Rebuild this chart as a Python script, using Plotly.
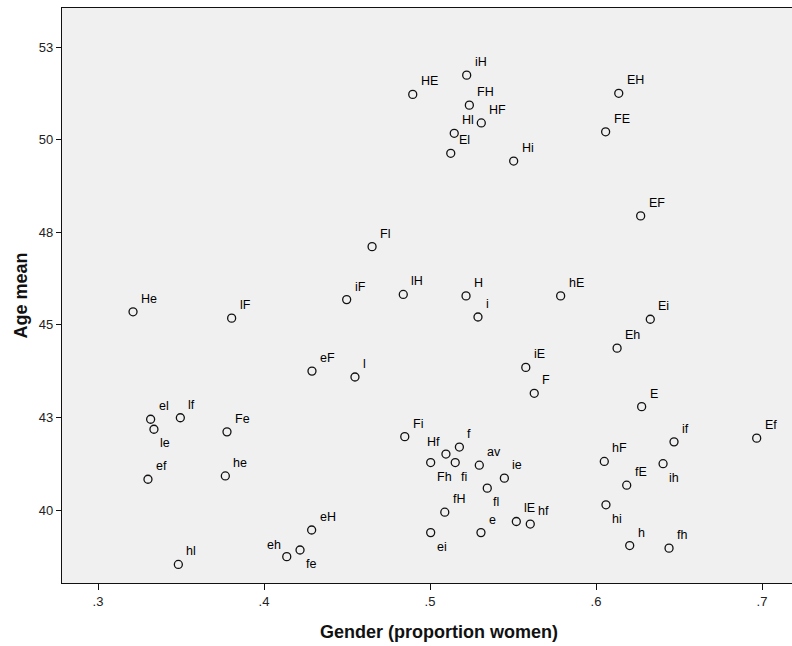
import plotly.graph_objects as go

# Group codes with their gender share (proportion women) and mean age
labels = [
    "HE", "iH", "FH", "HF", "Hl", "El", "Hi", "EH", "FE", "EF",
    "Fl", "He", "lF", "iF", "lH", "H", "i", "hE", "Ei", "Eh",
    "iE", "F", "E", "eF", "l", "el", "le", "lf", "Fe", "ef",
    "he", "Fi", "Fh", "Hf", "fi", "f", "av", "ie", "fl", "fH",
    "ei", "e", "lE", "hf", "hF", "if", "Ef", "ih", "fE", "hi",
    "h", "fh", "hl", "eh", "fe", "eH",
]
gender = [
    0.4896, 0.5221, 0.5237, 0.5309, 0.5146, 0.5125, 0.5504, 0.6137, 0.6058, 0.6269,
    0.4651, 0.3211, 0.3805, 0.4498, 0.4839, 0.5217, 0.5289, 0.5787, 0.6327, 0.6127,
    0.5577, 0.5628, 0.6275, 0.4289, 0.4548, 0.3317, 0.3337, 0.3496, 0.3777, 0.3301,
    0.3767, 0.4848, 0.5004, 0.5096, 0.5152, 0.5177, 0.5297, 0.5448, 0.5345, 0.5089,
    0.5004, 0.5307, 0.5520, 0.5604, 0.6050, 0.6470, 0.6968, 0.6404, 0.6185, 0.6060,
    0.6203, 0.6440, 0.3484, 0.4137, 0.4217, 0.4287,
]
age_mean = [
    51.22, 51.74, 50.93, 50.45, 50.17, 49.63, 49.42, 51.25, 50.21, 47.94,
    47.11, 45.35, 45.18, 45.68, 45.82, 45.78, 45.21, 45.78, 45.15, 44.37,
    43.85, 43.15, 42.79, 43.75, 43.59, 42.45, 42.18, 42.49, 42.11, 40.83,
    40.92, 41.98, 41.28, 41.51, 41.28, 41.70, 41.21, 40.86, 40.59, 39.94,
    39.39, 39.39, 39.69, 39.62, 41.31, 41.84, 41.94, 41.25, 40.67, 40.14,
    39.04, 38.97, 38.53, 38.74, 38.92, 39.46,
]

x_ticks = [0.3, 0.4, 0.5, 0.6, 0.7]
x_ticktext = [".3", ".4", ".5", ".6", ".7"]
y_ticks = [40, 42.5, 45, 47.5, 50, 52.5]
y_ticktext = ["40", "43", "45", "48", "50", "53"]

# Labels default to the upper right of their marker; a few are moved to avoid clutter
below_right = {"le", "Fh", "fi", "fl", "ei", "ih", "hi", "fe"}
above_left = {"Hf", "eh"}

fig = go.Figure()
fig.add_trace(go.Scatter(
    x=gender, y=age_mean, mode="markers",
    marker=dict(symbol="circle", size=8, color="rgba(0,0,0,0)",
                line=dict(color="#111111", width=1.3)),
    hoverinfo="text", text=labels, showlegend=False,
))

label_font = dict(family="Liberation Sans, Arial, sans-serif", size=12.5, color="#000000")
for lab, xv, yv in zip(labels, gender, age_mean):
    if lab in below_right:
        xa, xs, ys = "left", 4, -14
    elif lab in above_left:
        xa, xs, ys = "right", -4, 12
    else:
        xa, xs, ys = "left", 6, 13
    fig.add_annotation(x=xv, y=yv, text=lab, showarrow=False,
                       xanchor=xa, yanchor="middle", xshift=xs, yshift=ys,
                       font=label_font)

axis_font = dict(family="Liberation Sans, Arial, sans-serif", size=13, color="#222222")
title_font = dict(family="Liberation Sans, Arial, sans-serif", size=18, color="#111111")

# x-axis title, centred slightly right of the visible plot area
fig.add_annotation(xref="paper", yref="paper", x=0.5164, y=-0.085,
                   text="<b>Gender (proportion women)</b>", showarrow=False,
                   xanchor="center", yanchor="middle", font=title_font)

fig.update_layout(
    width=792, height=646,
    margin=dict(l=62, r=0, t=8, b=63),
    paper_bgcolor="white",
    plot_bgcolor="rgb(240,240,240)",
    xaxis=dict(
        range=[0.27831, 0.71807], tickvals=x_ticks, ticktext=x_ticktext,
        showgrid=False, zeroline=False, showline=True, mirror=True,
        linecolor="#111111", linewidth=1.3,
        ticks="outside", ticklen=6, tickwidth=1.3, tickcolor="#111111",
        tickfont=axis_font, automargin=False,
    ),
    yaxis=dict(
        range=[38.029, 53.553], tickvals=y_ticks, ticktext=y_ticktext,
        showgrid=False, zeroline=False, showline=True, mirror=False,
        linecolor="#111111", linewidth=1.3,
        ticks="outside", ticklen=5, tickwidth=1.3, tickcolor="#111111",
        tickfont=axis_font, automargin=False,
        title=dict(text="<b>Age mean</b>", font=title_font, standoff=6),
    ),
)

fig.write_html("out.html")
